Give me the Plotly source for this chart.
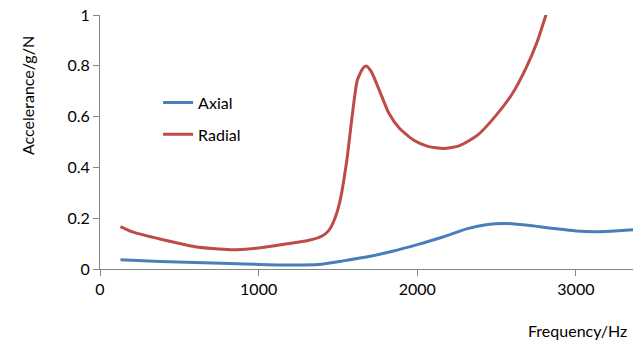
import plotly.graph_objects as go

radial_f = [129, 200, 378, 600, 822, 1000, 1178, 1311, 1400, 1440, 1475, 1511, 1556, 1589,
            1622, 1656, 1678, 1711, 1756, 1822, 1889, 1978, 2067, 2167, 2267, 2378, 2489,
            2600, 2689, 2756, 2811, 2840]
radial_v = [0.167, 0.147, 0.118, 0.088, 0.076, 0.083, 0.099, 0.112, 0.130, 0.150, 0.190,
            0.262, 0.428, 0.599, 0.743, 0.789, 0.799, 0.776, 0.711, 0.612, 0.553, 0.507,
            0.483, 0.474, 0.486, 0.526, 0.599, 0.691, 0.796, 0.895, 1.0, 1.06]

axial_f = [129, 378, 600, 822, 1000, 1222, 1378, 1533, 1711, 1844, 2000, 2156, 2311, 2444,
           2556, 2711, 2867, 3000, 3133, 3267, 3360]
axial_v = [0.036, 0.030, 0.026, 0.022, 0.018, 0.016, 0.018, 0.032, 0.051, 0.070, 0.096,
           0.125, 0.158, 0.175, 0.179, 0.171, 0.159, 0.150, 0.147, 0.151, 0.155]

x_ticks = [0, 1000, 2000, 3000]
y_ticks = [0, 0.2, 0.4, 0.6, 0.8, 1]
y_tick_text = ["0", "0.2", "0.4", "0.6", "0.8", "1"]

FONT = "Lato"
fig = go.Figure()
fig.add_trace(go.Scatter(x=axial_f, y=axial_v, mode="lines", name="Axial", legendgroup="a",
                         line=dict(color="#4A7EBB", width=3, shape="spline", smoothing=0.6)))
fig.add_trace(go.Scatter(x=radial_f, y=radial_v, mode="lines", name="Radial", legendgroup="r",
                         line=dict(color="#BE4B48", width=3, shape="spline", smoothing=0.6)))

axis_common = dict(showgrid=False, zeroline=False, showline=True, linecolor="#868686",
                   linewidth=1, ticks="outside", tickcolor="#868686", ticklen=6,
                   tickfont=dict(family=FONT, size=16, color="#000000"))
fig.update_xaxes(range=[0, 3360], tickvals=x_ticks, **axis_common)
fig.update_yaxes(range=[0, 1], tickvals=y_ticks, ticktext=y_tick_text, **axis_common)

fig.update_layout(
    width=644, height=345,
    margin=dict(l=100, r=11, t=15, b=76, autoexpand=False),
    plot_bgcolor="white", paper_bgcolor="white",
    showlegend=True,
    legend=dict(x=0.109, y=0.722, xanchor="left", yanchor="top", traceorder="grouped",
                bgcolor="rgba(0,0,0,0)", font=dict(family=FONT, size=16, color="#000"),
                itemwidth=30, tracegroupgap=8),
    annotations=[
        dict(text="Accelerance/g/N", x=(27 - 100) / 533, y=(269 - 96) / 254,
             xref="paper", yref="paper", xanchor="center", yanchor="middle",
             showarrow=False, textangle=-90, font=dict(family=FONT, size=16, color="#000")),
        dict(text="Frequency/Hz", x=(577 - 100) / 533, y=(269 - 330) / 254,
             xref="paper", yref="paper", xanchor="center", yanchor="middle",
             showarrow=False, font=dict(family=FONT, size=16, color="#000")),
    ],
)

fig.write_html("out.html", config={"displayModeBar": False},
               post_script="document.body.style.margin='0';document.body.style.padding='0';")
